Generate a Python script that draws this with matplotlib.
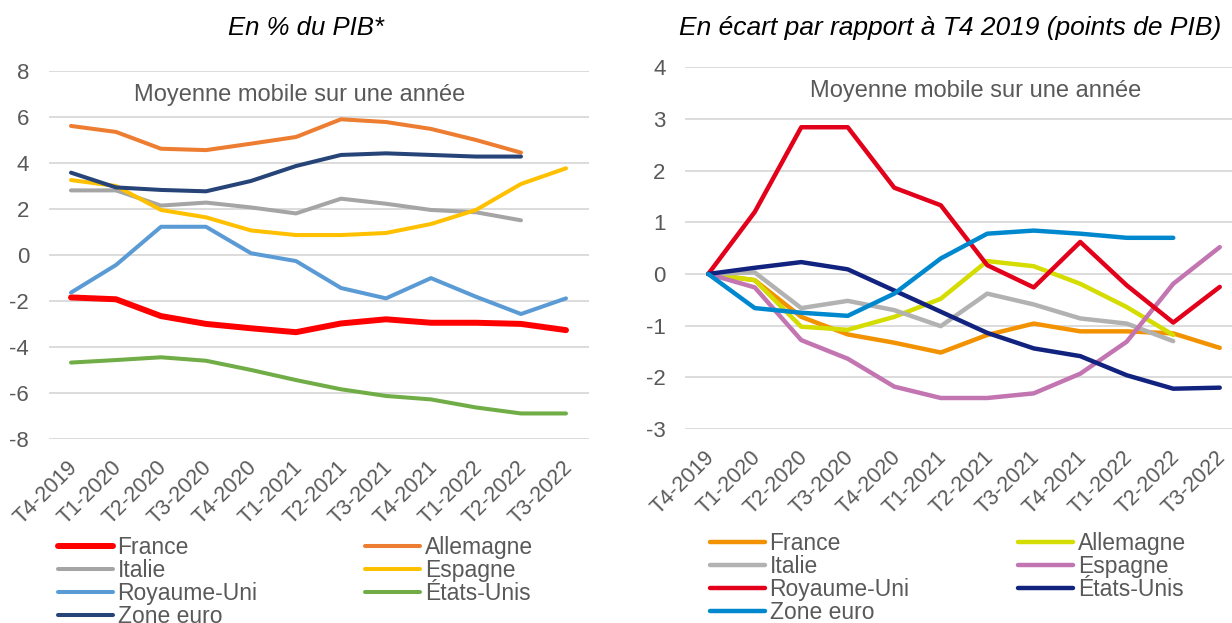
import numpy as np
import matplotlib
matplotlib.use("Agg")
import matplotlib.pyplot as plt
from matplotlib.transforms import ScaledTranslation

plt.rcParams['font.family'] = ['Liberation Sans', 'DejaVu Sans']
plt.rcParams['axes.unicode_minus'] = False

quarters = ["T4-2019", "T1-2020", "T2-2020", "T3-2020", "T4-2020", "T1-2021",
            "T2-2021", "T3-2021", "T4-2021", "T1-2022", "T2-2022", "T3-2022"]
countries = ["France", "Allemagne", "Italie", "Espagne", "Royaume-Uni", "États-Unis", "Zone euro"]
nan = np.nan

# left panel: en % du PIB
left_france = [-1.85, -1.93, -2.66, -3.00, -3.19, -3.36, -2.98, -2.80, -2.95, -2.95, -3.00, -3.27]
left_allemagne = [5.60, 5.34, 4.61, 4.55, 4.83, 5.12, 5.89, 5.77, 5.47, 4.99, 4.44, nan]
left_italie = [2.80, 2.80, 2.14, 2.27, 2.06, 1.80, 2.44, 2.22, 1.95, 1.85, 1.50, nan]
left_espagne = [3.25, 2.99, 1.95, 1.63, 1.06, 0.86, 0.86, 0.95, 1.34, 1.95, 3.08, 3.76]
left_ru = [-1.64, -0.44, 1.22, 1.22, 0.07, -0.27, -1.44, -1.89, -1.01, -1.82, -2.57, -1.89]
left_eu = [-4.68, -4.57, -4.45, -4.60, -5.00, -5.44, -5.84, -6.13, -6.28, -6.63, -6.89, -6.89]
left_ze = [3.57, 2.93, 2.82, 2.76, 3.21, 3.86, 4.34, 4.41, 4.34, 4.27, 4.27, nan]

# right panel: ecart par rapport a T4 2019
right_france = [0, -0.12, -0.83, -1.17, -1.33, -1.52, -1.18, -0.96, -1.11, -1.11, -1.15, -1.43]
right_allemagne = [0, -0.12, -1.02, -1.08, -0.83, -0.48, 0.25, 0.15, -0.19, -0.64, -1.18, nan]
right_italie = [0, 0.03, -0.66, -0.52, -0.70, -1.01, -0.38, -0.59, -0.86, -0.96, -1.30, nan]
right_espagne = [0, -0.26, -1.28, -1.64, -2.18, -2.40, -2.40, -2.31, -1.93, -1.31, -0.19, 0.52]
right_ru = [0, 1.20, 2.84, 2.84, 1.67, 1.33, 0.17, -0.26, 0.62, -0.22, -0.94, -0.25]
right_eu = [0, 0.12, 0.23, 0.09, -0.32, -0.73, -1.14, -1.44, -1.59, -1.96, -2.22, -2.20]
right_ze = [0, -0.66, -0.75, -0.81, -0.38, 0.30, 0.78, 0.84, 0.78, 0.70, 0.70, nan]

left_series = [left_france, left_allemagne, left_italie, left_espagne, left_ru, left_eu, left_ze]
right_series = [right_france, right_allemagne, right_italie, right_espagne, right_ru, right_eu, right_ze]

left_colors = ["#FF0000", "#ED7D31", "#A5A5A5", "#FFC000", "#5B9BD5", "#70AD47", "#264478"]
right_colors = ["#F39200", "#D4DC00", "#B2B2B2", "#C275B0", "#E2001A", "#12237F", "#0088CE"]
left_widths = [4.3, 2.9, 2.9, 2.9, 2.9, 2.9, 2.9]

TXT = "#595959"
W, H = 1232, 623
fig = plt.figure(figsize=(W / 100, H / 100), dpi=100)


def setup(ax, ylim, yticks):
    ax.set_xlim(-0.5, len(quarters) - 0.5)
    ax.set_ylim(*ylim)
    ax.set_yticks(yticks)
    ax.set_xticks(range(len(quarters)))
    ax.set_xticklabels([])
    # rotated category labels, end of the text right under the category
    shift = ScaledTranslation(3 / 100, -25 / 100, fig.dpi_scale_trans)
    for i, q in enumerate(quarters):
        ax.text(i, 0, q, rotation=45, ha="right", va="center", rotation_mode="anchor",
                fontsize=15.5, color=TXT, transform=ax.get_xaxis_transform() + shift)
    ax.tick_params(axis="y", labelsize=16, labelcolor=TXT, length=0, pad=14)
    ax.tick_params(axis="x", length=0)
    for s in ax.spines.values():
        s.set_visible(False)
    ax.grid(axis="y", color="#D9D9D9", lw=1.3)
    ax.set_axisbelow(True)


def legend(ax, handles, x, y, colspace):
    # excel fills the legend row by row
    order = [0, 2, 4, 6, 1, 3, 5]
    ax.legend([handles[i] for i in order], [countries[i] for i in order],
              ncol=2, loc="upper left", bbox_to_anchor=(x / W, 1 - y / H),
              bbox_transform=fig.transFigure, frameon=False, fontsize=16.5,
              labelcolor=TXT, handlelength=2.4, handletextpad=0.2,
              labelspacing=0.0, columnspacing=colspace, borderpad=0, borderaxespad=0)


# left panel
ax1 = fig.add_axes([48.5 / W, 1 - 439 / H, (588.5 - 48.5) / W, (439 - 70.7) / H])
setup(ax1, (-8, 8), range(-8, 9, 2))
h1 = []
for vals, c, lw in zip(left_series, left_colors, left_widths):
    h1 += ax1.plot(range(len(quarters)), vals, color=c, lw=lw, solid_capstyle="round")
ax1.text(0.465, 6.93, "Moyenne mobile sur une année", ha="center", va="center",
         fontsize=17, color=TXT, transform=ax1.get_yaxis_transform())
legend(ax1, h1, 58, 536, 4.7)

# right panel
ax2 = fig.add_axes([685 / W, 1 - 429 / H, (1243 - 685) / W, (429 - 67.3) / H])
setup(ax2, (-3, 4), range(-3, 5))
h2 = []
for vals, c in zip(right_series, right_colors):
    h2 += ax2.plot(range(len(quarters)), vals, color=c, lw=3.2, solid_capstyle="round")
ax2.text(0.52, 3.55, "Moyenne mobile sur une année", ha="center", va="center",
         fontsize=17, color=TXT, transform=ax2.get_yaxis_transform())
legend(ax2, h2, 710, 532, 4.75)

fig.text(306 / W, 1 - 28 / H, "En % du PIB*", ha="center", va="center",
         fontsize=18.5, style="italic", color="black")
fig.text(950 / W, 1 - 28 / H, "En écart par rapport à T4 2019 (points de PIB)",
         ha="center", va="center", fontsize=19, style="italic", color="black")

fig.savefig("out.png", dpi=100)
